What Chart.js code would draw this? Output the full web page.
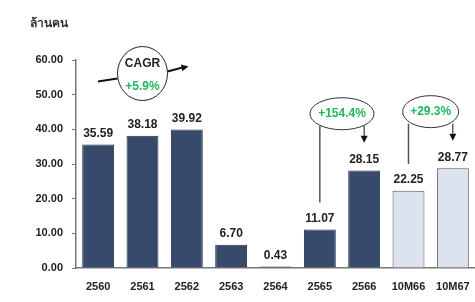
<!DOCTYPE html>
<html>
<head>
<meta charset="utf-8">
<script src="https://cdn.jsdelivr.net/npm/chart.js@4"></script>
<style>
  body { margin: 0; background: #fff; }
  #wrap { width: 475px; height: 302px; }
</style>
</head>
<body>
<div id="wrap"><canvas id="myChart" width="475" height="302"></canvas></div>
<script>
const categories = ['2560', '2561', '2562', '2563', '2564', '2565', '2566', '10M66', '10M67'];
const visitors = [35.59, 38.18, 39.92, 6.70, 0.43, 11.07, 28.15, 22.25, 28.77];
const yTicks = [0, 10, 20, 30, 40, 50, 60];
const unitLabel = 'ล้านคน';
const growthLabels = ['+5.9%', '+154.4%', '+29.3%'];

const dark = '#374a6b';
const light = '#dde3ee';
const green = '#1fb85a';
const font = "'Liberation Sans', Arial, sans-serif";

const fills = categories.map(c => c.startsWith('10M') ? light : dark);
const borders = categories.map(c => c.startsWith('10M') ? '#555555' : '#24324a');

function arrowHead(c, x, y, ang) {
    c.save();
    c.translate(x, y);
    c.rotate(ang);
    c.beginPath();
    c.moveTo(0, 0);
    c.lineTo(-7, -3.5);
    c.lineTo(-7, 3.5);
    c.closePath();
    c.fill();
    c.restore();
}

const extras = {
    id: 'extras',
    afterDatasetsDraw(chart) {
        const c = chart.ctx;
        const meta = chart.getDatasetMeta(0);
        const xs = chart.scales.x;
        const ys = chart.scales.y;

        // value labels
        c.save();
        c.fillStyle = '#222';
        c.font = 'bold 12px ' + font;
        c.textAlign = 'center';
        c.textBaseline = 'bottom';
        meta.data.forEach((bar, i) => {
            c.fillText(visitors[i].toFixed(2), bar.x, bar.y - 5);
        });

        // unit label
        c.font = 'bold 12px ' + font;
        c.fillStyle = '#333';
        c.textAlign = 'left';
        c.textBaseline = 'middle';
        c.fillText(unitLabel, 30, 24);

        c.strokeStyle = '#111';
        c.fillStyle = '#111';

        // CAGR circle with arrow
        const cx = xs.getPixelForValue(1);
        const cy = ys.getPixelForValue(56.1);
        c.lineWidth = 2;
        c.beginPath();
        c.moveTo(98, cy + 8);
        c.lineTo(cx - 25, cy + 5);
        c.moveTo(cx + 25, cy - 2);
        c.lineTo(cx + 40, cy - 6);
        c.stroke();
        arrowHead(c, cx + 46, cy - 7, -0.2);
        c.lineWidth = 1;
        c.strokeStyle = '#222';
        c.beginPath();
        c.ellipse(cx, cy, 25, 27, 0, 0, Math.PI * 2);
        c.fillStyle = '#fff';
        c.fill();
        c.stroke();
        c.textAlign = 'center';
        c.font = 'bold 12px ' + font;
        c.fillStyle = '#222';
        c.fillText('CAGR', cx, cy - 10);
        c.fillStyle = green;
        c.fillText(growthLabels[0], cx, cy + 13);

        // growth ellipses
        const ellipses = [
            { from: 5, to: 6, label: growthLabels[1], rx: 32, at: 44.5 },
            { from: 7, to: 8, label: growthLabels[2], rx: 28, at: 45.1 }
        ];
        ellipses.forEach(e => {
            const b1 = meta.data[e.from];
            const b2 = meta.data[e.to];
            const ex = (b1.x + b2.x) / 2;
            const ey = ys.getPixelForValue(e.at);
            c.strokeStyle = '#555';
            c.lineWidth = 1.5;
            c.beginPath();
            c.moveTo(b1.x, ey + 12);
            c.lineTo(b1.x, b1.y - 27);
            c.stroke();
            c.strokeStyle = '#111';
            c.fillStyle = '#111';
            c.lineWidth = 1;
            c.beginPath();
            c.moveTo(b2.x, ey + 12);
            c.lineTo(b2.x, ey + 22);
            c.stroke();
            arrowHead(c, b2.x, ey + 29, Math.PI / 2);
            c.strokeStyle = '#333';
            c.beginPath();
            c.ellipse(ex, ey, e.rx, 16, 0, 0, Math.PI * 2);
            c.fillStyle = '#fff';
            c.fill();
            c.stroke();
            c.fillStyle = green;
            c.font = 'bold 12px ' + font;
            c.fillText(e.label, ex, ey);
        });
        c.restore();
    }
};

const ctx = document.getElementById('myChart');
const myChart = new Chart(ctx, {
    type: 'bar',
    data: {
        labels: categories,
        datasets: [{
            data: visitors,
            backgroundColor: fills,
            borderColor: borders,
            borderWidth: 1,
            barPercentage: 0.72,
            categoryPercentage: 1
        }]
    },
    options: {
        responsive: false,
        animation: false,
        layout: { padding: { top: 60, right: 0, left: 0, bottom: 0 } },
        plugins: { legend: { display: false }, tooltip: { enabled: false } },
        scales: {
            x: {
                grid: { display: false },
                border: { color: '#777', width: 1.5 },
                ticks: { color: '#222', font: { family: font, weight: 'bold', size: 11 }, padding: 4 },
                afterFit(s) { s.height = 34; }
            },
            y: {
                min: 0,
                max: 60,
                afterBuildTicks(s) { s.ticks = yTicks.map(v => ({ value: v })); },
                grid: { drawOnChartArea: false, tickLength: 4, color: '#777' },
                border: { color: '#777', width: 1.5 },
                ticks: {
                    color: '#222',
                    font: { family: font, weight: 'bold', size: 11 },
                    padding: 9,
                    callback: v => v.toFixed(2)
                },
                afterFit(s) { s.width = 76; }
            }
        }
    },
    plugins: [extras]
});
</script>
</body>
</html>
